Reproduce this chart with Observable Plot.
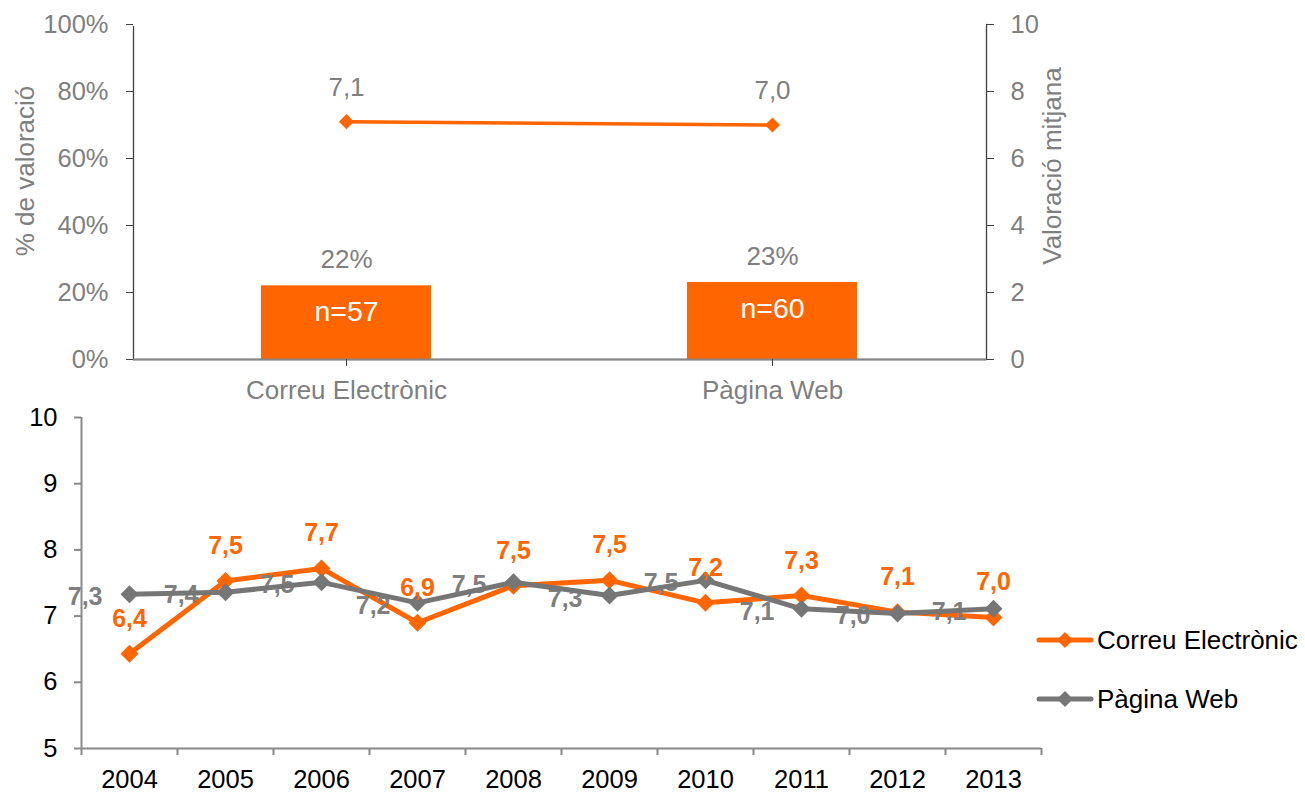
<!DOCTYPE html>
<html>
<head>
<meta charset="utf-8">
<script src="https://cdn.jsdelivr.net/npm/d3@7"></script>
<script src="https://cdn.jsdelivr.net/npm/@observablehq/plot@0.6"></script>
<style>
  html, body { margin: 0; padding: 0; background: #fff; }
  #wrap { position: relative; width: 1305px; height: 792px; font-family: "Liberation Sans", Arial, sans-serif; }
  #topChart, #bottomChart { position: absolute; left: 0; }
  #topChart { top: 0; }
  #bottomChart { top: 400px; }
  #legend { position: absolute; left: 1036px; top: 621px; font-size: 26px; color: #000; white-space: nowrap; }
  .li { display: flex; align-items: center; height: 38px; margin-bottom: 21px; }
  .li svg { margin-right: 3px; }
</style>
</head>
<body>
<div id="wrap">
  <div id="topChart"></div>
  <div id="bottomChart"></div>
  <div id="legend"></div>
</div>
<script>
// ---- data ----
const categories = ["Correu Electrònic", "Pàgina Web"];
const pctValues = [22, 23];
const nValues = [57, 60];
const meanValues = [7.1, 7.0];

const years = [2004, 2005, 2006, 2007, 2008, 2009, 2010, 2011, 2012, 2013];
const correuValues = [6.43, 7.53, 7.72, 6.90, 7.46, 7.54, 7.20, 7.31, 7.06, 6.98];
const webValues = [7.33, 7.36, 7.51, 7.20, 7.51, 7.31, 7.54, 7.11, 7.04, 7.11];

const leftTicks = [0, 20, 40, 60, 80, 100];
const rightTicks = [0, 2, 4, 6, 8, 10];
const bottomYTicks = [5, 6, 7, 8, 9, 10];
const seriesNames = ["Correu Electrònic", "Pàgina Web"];

const ORANGE = "#FF6600";
const GREY = "#7F7F7F";
const fmt = v => v.toFixed(1).replace(".", ",");
const FONT = "'Liberation Sans', Arial, sans-serif";

// ---- top chart ----
const topData = categories.map((c, i) => ({cat: c, pct: pctValues[i], n: nValues[i], mean: meanValues[i]}));

const topPlot = Plot.plot({
  width: 1305, height: 400,
  marginLeft: 133, marginRight: 319, marginTop: 24, marginBottom: 41,
  style: {fontFamily: FONT, fontSize: "25.5px", background: "transparent", overflow: "visible"},
  x: {domain: categories, paddingInner: 0.6, paddingOuter: 0.3, axis: null},
  y: {domain: [0, 100], axis: null},
  marks: [
    Plot.frame({stroke: "#404040", strokeWidth: 1.3}),
    Plot.ruleY([100], {stroke: "#fff", strokeWidth: 3}),
    Plot.barY(topData, {x: "cat", y: "pct", fill: ORANGE}),
    Plot.ruleY([0], {stroke: "#868686", strokeWidth: 2}),
    Plot.axisY({anchor: "left", ticks: leftTicks, tickFormat: d => d + "%", tickSize: 7, tickPadding: 18, color: GREY, stroke: "#404040", fontSize: 25.5, label: null}),
    Plot.axisY({anchor: "right", ticks: leftTicks, tickFormat: (d, i) => String(rightTicks[i]), tickSize: 7, tickPadding: 17, color: GREY, stroke: "#404040", fontSize: 25.5, label: null}),
    Plot.axisX({anchor: "bottom", tickSize: 7, tickPadding: 14, color: GREY, stroke: "#404040", fontSize: 26, label: null}),
    Plot.text(["% de valoració"], {frameAnchor: "left", textAnchor: "middle", dx: -108, dy: -21, rotate: -90, fill: GREY, fontSize: 26}),
    Plot.text(["Valoració mitjana"], {frameAnchor: "right", textAnchor: "middle", dx: 66, dy: -26, rotate: -90, fill: GREY, fontSize: 26}),
    Plot.text(topData, {x: "cat", y: "pct", text: d => d.pct + "%", dy: -26, fill: GREY, fontSize: 26}),
    Plot.text(topData, {x: "cat", y: "pct", text: d => "n=" + d.n, dy: 26, fill: "#fff", fontSize: 28.5}),
    Plot.line(topData, {x: "cat", y: d => d.mean * 10, stroke: ORANGE, strokeWidth: 3.5}),
    Plot.dot(topData, {x: "cat", y: d => d.mean * 10, symbol: "diamond2", r: 6.8, fill: ORANGE, stroke: "none"}),
    Plot.text(topData, {x: "cat", y: d => d.mean * 10, text: d => fmt(d.mean), dy: -34, fill: GREY, fontSize: 26})
  ]
});
document.getElementById("topChart").appendChild(topPlot);

// ---- bottom chart ----
const rows = [];
years.forEach((y, i) => {
  rows.push({year: y, value: correuValues[i], series: seriesNames[0]});
  rows.push({year: y, value: webValues[i], series: seriesNames[1]});
});
const correuRows = rows.filter(d => d.series === seriesNames[0]);
const webRows = rows.filter(d => d.series === seriesNames[1]);
const xMin = d3.min(years) - 0.5, xMax = d3.max(years) + 0.5;
const boundaries = d3.range(years.length + 1).map(i => xMin + i);

const bottomPlot = Plot.plot({
  width: 1305, height: 392,
  marginLeft: 81, marginRight: 264, marginTop: 17, marginBottom: 44,
  style: {fontFamily: FONT, fontSize: "25.5px", background: "transparent", overflow: "visible"},
  x: {domain: [xMin, xMax], axis: null},
  y: {domain: [5, 10], axis: null},
  marks: [
    Plot.ruleX([xMin], {stroke: "#898989", strokeWidth: 2}),
    Plot.ruleY([5], {stroke: "#898989", strokeWidth: 2}),
    Plot.axisY({anchor: "left", ticks: bottomYTicks, tickFormat: d => String(d), tickSize: 7, tickPadding: 17, color: "#000", stroke: "#898989", strokeWidth: 2, fontSize: 25.5, label: null}),
    Plot.axisX({anchor: "bottom", ticks: boundaries, tickFormat: () => "", tickSize: 7, stroke: "#898989", strokeWidth: 2, label: null}),
    Plot.axisX({anchor: "bottom", ticks: years, tickFormat: d => String(d), tickSize: 0, tickPadding: 21, color: "#000", fontSize: 25.5, label: null}),
    Plot.line(correuRows, {x: "year", y: "value", stroke: ORANGE, strokeWidth: 5}),
    Plot.dot(correuRows, {x: "year", y: "value", symbol: "diamond2", r: 8.1, fill: ORANGE, stroke: "none"}),
    Plot.text(webRows, {x: "year", y: "value", text: d => fmt(d.value), dx: -27, dy: 3, textAnchor: "end", fill: GREY, fontWeight: "bold", fontSize: 25}),
    Plot.line(webRows, {x: "year", y: "value", stroke: "#767676", strokeWidth: 5}),
    Plot.dot(webRows, {x: "year", y: "value", symbol: "diamond2", r: 8.1, fill: "#767676", stroke: "none"}),
    Plot.text(correuRows, {x: "year", y: "value", text: d => fmt(d.value), dy: -35, fill: ORANGE, fontWeight: "bold", fontSize: 25})
  ]
});
document.getElementById("bottomChart").appendChild(bottomPlot);

// ---- legend ----
const legend = document.getElementById("legend");
[[seriesNames[0], ORANGE], [seriesNames[1], "#767676"]].forEach(([name, col]) => {
  const row = document.createElement("div");
  row.className = "li";
  row.innerHTML = `<svg width="58" height="20"><line x1="3" y1="10" x2="55" y2="10" stroke="${col}" stroke-width="5" stroke-linecap="round"/><path d="M29,2 L37,10 L29,18 L21,10 Z" fill="${col}"/></svg><span>${name}</span>`;
  legend.appendChild(row);
});
</script>
</body>
</html>
